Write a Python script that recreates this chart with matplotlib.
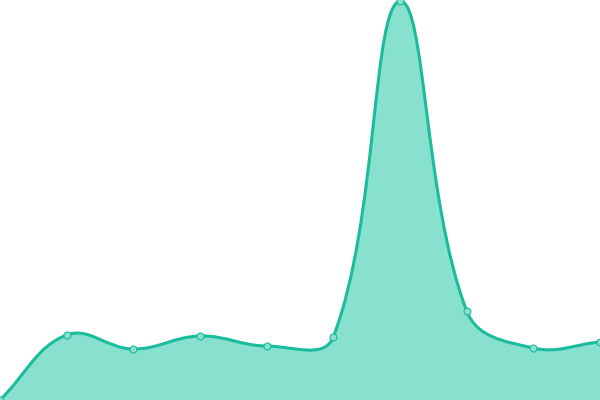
import numpy as np
import matplotlib
matplotlib.use("Agg")
import matplotlib.pyplot as plt
from matplotlib.path import Path
from matplotlib.patches import PathPatch

# values (chart area is 600 x 400 px)
x_vals = [0, 66.7, 133.3, 200, 266.7, 333.3, 400, 466.7, 533.3, 600]
y_vals = [0, 65, 51, 64, 54, 63, 399, 89, 52, 58]

line_color = "#1abc9c"
fill_color = "#88e0cf"
tension = 0.4


def spline_controls(xs, ys, t):
    # cardinal-style bezier control points, like Chart.js
    pts = np.column_stack([xs, ys]).astype(float)
    n = len(pts)
    ctrl = []
    for i in range(n):
        prev = pts[max(i - 1, 0)]
        cur = pts[i]
        nxt = pts[min(i + 1, n - 1)]
        d01 = np.hypot(*(cur - prev))
        d12 = np.hypot(*(nxt - cur))
        tot = d01 + d12
        s01 = d01 / tot if tot else 0
        s12 = d12 / tot if tot else 0
        fa = t * s01
        fb = t * s12
        cp_prev = cur - fa * (nxt - prev)
        cp_next = cur + fb * (nxt - prev)
        cp_prev[1] = min(max(cp_prev[1], 0), 400)
        cp_next[1] = min(max(cp_next[1], 0), 400)
        ctrl.append((cp_prev, cp_next))
    return pts, ctrl


pts, ctrl = spline_controls(x_vals, y_vals, tension)

verts = [tuple(pts[0])]
codes = [Path.MOVETO]
for i in range(1, len(pts)):
    verts += [tuple(ctrl[i - 1][1]), tuple(ctrl[i][0]), tuple(pts[i])]
    codes += [Path.CURVE4] * 3

fill_verts = verts + [(pts[-1][0], 0), (pts[0][0], 0), tuple(pts[0])]
fill_codes = codes + [Path.LINETO, Path.LINETO, Path.CLOSEPOLY]

fig = plt.figure(figsize=(6, 4), dpi=100)
ax = fig.add_axes([0, 0, 1, 1])
ax.add_patch(PathPatch(Path(fill_verts, fill_codes), facecolor=fill_color,
                       edgecolor="none"))
ax.add_patch(PathPatch(Path(verts, codes), facecolor="none",
                       edgecolor=line_color, lw=2.2))
ax.plot(x_vals, y_vals, "o", ms=5, mfc=fill_color, mec=line_color, mew=0.8,
        clip_on=False, zorder=5)
ax.set_xlim(0, 600)
ax.set_ylim(0, 400)
ax.axis("off")
fig.savefig("out.png", dpi=100)
